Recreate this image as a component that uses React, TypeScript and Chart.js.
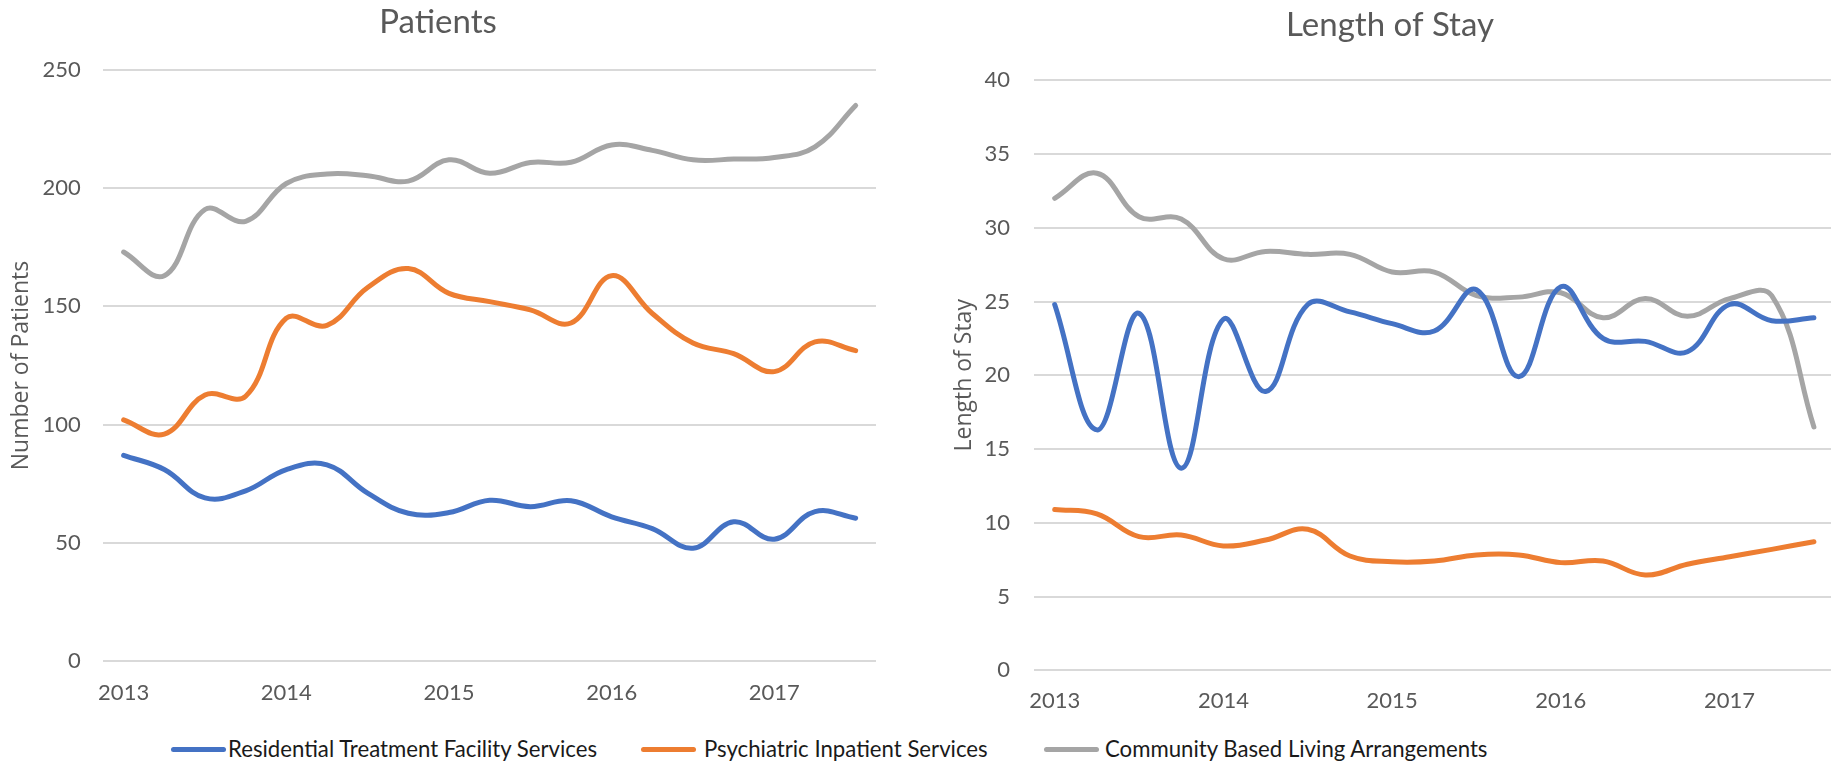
import React, { useEffect, useRef } from "react";
import { Chart, registerables } from "chart.js";

Chart.register(...registerables);

// ---------- data ----------
const quarters = [
  "2013 Q1", "2013 Q2", "2013 Q3", "2013 Q4",
  "2014 Q1", "2014 Q2", "2014 Q3", "2014 Q4",
  "2015 Q1", "2015 Q2", "2015 Q3", "2015 Q4",
  "2016 Q1", "2016 Q2", "2016 Q3", "2016 Q4",
  "2017 Q1", "2017 Q2", "2017 Q3",
];
const yearLabels = ["2013", "2014", "2015", "2016", "2017"];

const seriesNames = [
  "Residential Treatment Facility Services",
  "Psychiatric Inpatient Services",
  "Community Based Living Arrangements",
];
const seriesColors = ["#4472C4", "#ED7D31", "#A5A5A5"];

const patientsResidential = [87, 81, 69, 72, 81, 83, 71, 62.5, 62.8, 68, 65.3, 67.8, 61, 56, 47.7, 58.9, 51.5, 63.2, 60.4];
const patientsPsychiatric = [102, 96, 112.5, 112, 145, 142, 158, 166, 155.5, 152, 148.5, 143, 163, 147, 134.5, 130, 122.4, 135, 131.3];
const patientsCommunity = [173, 163, 191, 186, 202, 206, 205.3, 203, 212, 206.3, 210.9, 211, 218.3, 216, 212, 212.3, 213, 217.5, 235];

const stayResidential = [24.8, 16.3, 24.2, 13.7, 23.8, 18.9, 24.8, 24.3, 23.5, 23, 25.8, 19.9, 26, 22.5, 22.3, 21.6, 24.8, 23.7, 23.9];
const stayPsychiatric = [10.9, 10.6, 9.06, 9.17, 8.43, 8.83, 9.56, 7.75, 7.36, 7.41, 7.82, 7.82, 7.3, 7.41, 6.46, 7.19, 7.7, 8.2, 8.72];
const stayCommunity = [32, 33.7, 30.75, 30.6, 27.9, 28.4, 28.2, 28.2, 27, 27, 25.4, 25.3, 25.6, 23.9, 25.2, 24, 25.2, 25.4, 16.5];

// ---------- styling ----------
const TEXT = "#595959";
const GRID = "#D9D9D9";
const TICK_FONT = { family: "Lato", size: 22 };

type Params = {
  title: string;
  axisTitle: string;
  max: number;
  step: number;
  values: number[][];
  titleTop: number;
  titleBottom: number;
  xHeight: number;
  xPad: number;
  yWidth: number;
  yPad: number;
  yTitlePad: number;
};

function makeConfig(p: Params): any {
  return {
    type: "line",
    data: {
      labels: quarters,
      datasets: p.values.map((v, i) => ({
        label: seriesNames[i],
        data: v,
        borderColor: seriesColors[i],
        backgroundColor: seriesColors[i],
        borderWidth: 5,
        pointRadius: 0,
        pointHoverRadius: 0,
        tension: 0.4,
        borderCapStyle: "round",
        borderJoinStyle: "round",
        fill: false,
      })),
    },
    options: {
      animation: false,
      responsive: true,
      maintainAspectRatio: false,
      layout: { padding: 0 },
      plugins: {
        legend: { display: false },
        tooltip: { enabled: false },
        title: {
          display: true,
          text: p.title,
          color: TEXT,
          font: { family: "Lato", size: 33, weight: "normal" },
          padding: { top: p.titleTop, bottom: p.titleBottom },
        },
      },
      scales: {
        x: {
          offset: true,
          grid: { display: false, drawTicks: false },
          border: { display: false },
          ticks: {
            autoSkip: false,
            maxRotation: 0,
            color: TEXT,
            font: TICK_FONT,
            padding: p.xPad,
            callback: (_v: any, i: number) => (i % 4 === 0 ? yearLabels[i / 4] : ""),
          },
          afterFit: (s: any) => {
            s.height = p.xHeight;
          },
        },
        y: {
          min: 0,
          max: p.max,
          grid: { color: GRID, lineWidth: 2, drawTicks: false },
          border: { display: false },
          ticks: { stepSize: p.step, color: TEXT, font: TICK_FONT, padding: p.yPad },
          title: {
            display: true,
            text: p.axisTitle,
            color: TEXT,
            font: { family: "Open Sans", size: 23 },
            padding: { top: p.yTitlePad, bottom: 0 },
          },
          afterFit: (s: any) => {
            s.width = p.yWidth;
          },
        },
      },
    },
  };
}

function LineChart({ params, style }: { params: Params; style: React.CSSProperties }) {
  const ref = useRef<HTMLCanvasElement>(null);
  useEffect(() => {
    const chart = new Chart(ref.current as HTMLCanvasElement, makeConfig(params));
    return () => chart.destroy();
  }, []);
  return (
    <div style={{ position: "absolute", ...style }}>
      <canvas ref={ref} />
    </div>
  );
}

const legendSwatchX = [171, 641, 1044];
const legendTextX = [228, 704, 1105];

export default function App() {
  return (
    <div
      style={{
        position: "fixed",
        left: 0,
        top: 0,
        width: 1831,
        height: 764,
        overflow: "hidden",
        background: "#fff",
      }}
    >
      <LineChart
        style={{ left: 0, top: 0, width: 876, height: 720 }}
        params={{
          title: "Patients",
          axisTitle: "Number of Patients",
          max: 250,
          step: 50,
          values: [patientsResidential, patientsPsychiatric, patientsCommunity],
          titleTop: 3,
          titleBottom: 27.4,
          xHeight: 59,
          xPad: 19,
          yWidth: 103.3,
          yPad: 22.6,
          yTitlePad: 8,
        }}
      />
      <LineChart
        style={{ left: 945, top: 0, width: 890, height: 730 }}
        params={{
          title: "Length of Stay",
          axisTitle: "Length of Stay",
          max: 40,
          step: 5,
          values: [stayResidential, stayPsychiatric, stayCommunity],
          titleTop: 6,
          titleBottom: 34.7,
          xHeight: 59.7,
          xPad: 17,
          yWidth: 88.6,
          yPad: 23.6,
          yTitlePad: 5.2,
        }}
      />
      {seriesNames.map((name, i) => (
        <React.Fragment key={name}>
          <div
            style={{
              position: "absolute",
              left: legendSwatchX[i],
              top: 749 - 2.5,
              width: 55,
              height: 5,
              borderRadius: 2.5,
              background: seriesColors[i],
            }}
          />
          <div
            style={{
              position: "absolute",
              left: legendTextX[i],
              top: 749,
              transform: "translateY(-50%)",
              fontFamily: "Lato",
              fontSize: 22.2,
              lineHeight: "26px",
              color: "#1a1a1a",
              whiteSpace: "nowrap",
            }}
          >
            {name}
          </div>
        </React.Fragment>
      ))}
    </div>
  );
}
